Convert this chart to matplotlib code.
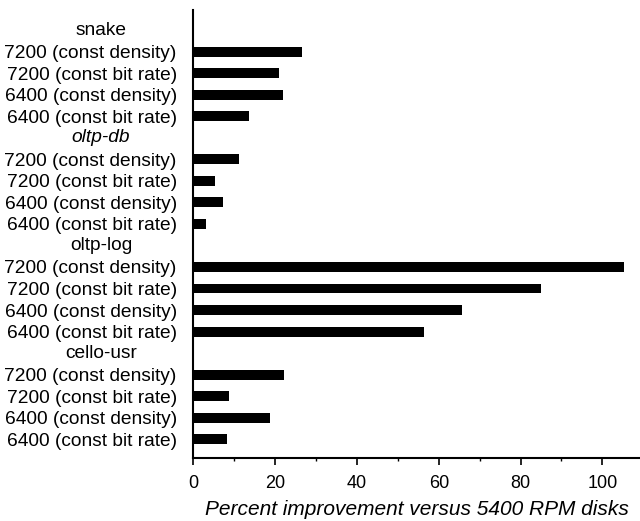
import numpy as np
import matplotlib.pyplot as plt
from matplotlib.transforms import blended_transform_factory

plt.rcParams["font.family"] = ["Liberation Sans", "DejaVu Sans"]

# workloads, top to bottom
groups = ["snake", "oltp-db", "oltp-log", "cello-usr"]
group_italic = [False, True, False, False]
configs = [
    "7200 (const density)",
    "7200 (const bit rate)",
    "6400 (const density)",
    "6400 (const bit rate)",
]
# percent improvement versus 5400 RPM disks
snake = [26.6, 21.0, 22.0, 13.6]
oltp_db = [11.1, 5.3, 7.2, 3.1]
oltp_log = [105.3, 84.9, 65.6, 56.4]
cello_usr = [22.1, 8.8, 18.7, 8.2]
values = [snake, oltp_db, oltp_log, cello_usr]

fig = plt.figure(figsize=(6.4, 5.21), dpi=100)
ax = fig.add_axes([0.3023, 0.1209, 0.6977, 0.8599])

bar_pos, bar_vals, bar_labels = [], [], []
header_pos = []
row = 0
for g, vals in zip(groups, values):
    header_pos.append(row)
    row += 1
    for c, v in zip(configs, vals):
        bar_pos.append(row)
        bar_vals.append(v)
        bar_labels.append(c)
        row += 1

ax.barh(bar_pos, bar_vals, height=0.46, color="black")
ax.set_yticks(bar_pos)
ax.set_yticklabels(bar_labels, fontsize=13.8)
ax.tick_params(axis="y", length=0, pad=12)

# group headers centred over the label column
trans = blended_transform_factory(fig.transFigure, ax.transData)
for g, y, it in zip(groups, header_pos, group_italic):
    ax.text(101 / 640, y, g, transform=trans, ha="center", va="center",
            fontsize=13.8, style="italic" if it else "normal")

ax.set_ylim(row - 1 + 0.87, -0.93)
ax.set_xlim(0, 109.2)
ax.set_xticks([0, 20, 40, 60, 80, 100])
ax.set_xticks([10, 30, 50, 70, 90], minor=True)
ax.tick_params(axis="x", which="major", direction="out", length=5, width=1.2,
               labelsize=13, pad=7)
ax.tick_params(axis="x", which="minor", direction="out", length=2, width=1)
ax.set_xlabel("Percent improvement versus 5400 RPM disks", fontsize=15,
              style="italic", labelpad=6)

for s in ["top", "right"]:
    ax.spines[s].set_visible(False)
for s in ["left", "bottom"]:
    ax.spines[s].set_linewidth(1.5)

fig.savefig("out.png", dpi=100)
